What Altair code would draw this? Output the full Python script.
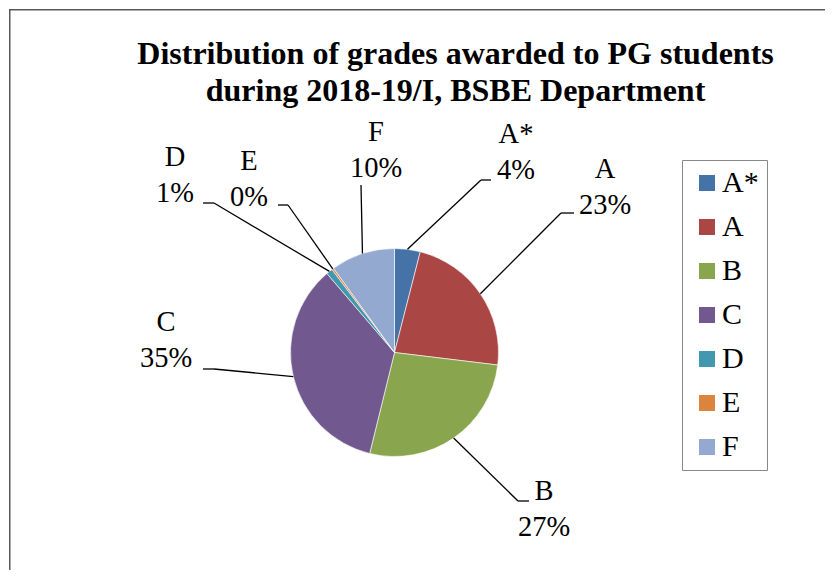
import altair as alt
import pandas as pd

# ---- data ----
grades = ["A*", "A", "B", "C", "D", "E", "F"]
shares = [4, 23, 27, 35, 1, 0.3, 10]
colors = ["#4572A7", "#AA4643", "#89A54E", "#71588F", "#4198AF", "#DB843D", "#93A9CF"]
title_lines = ["Distribution of grades awarded to PG students",
               "during 2018-19/I, BSBE Department"]

# ---- layout (chart pixel space) ----
W, H = 817, 562
CX, CY, R = 385.5, 343.5, 104
FONT = "Liberation Serif"
label_xy = {"A*": (507, 125), "A": (596, 160), "B": (535, 482), "C": (157, 313),
            "D": (166, 148), "E": (240, 152), "F": (367, 123)}
elbow_xy = {"A*": (472, 171), "A": (552, 204), "B": (509, 492), "C": (205, 360),
            "D": (205, 194), "E": (279, 196), "F": (352, 176)}
end_xy = {"A*": (482, 171), "A": (565, 204), "B": (520, 492), "C": (194, 360),
          "D": (194, 194), "E": (269, 196), "F": (352, 176)}

df = pd.DataFrame({
    "grade": grades,
    "share": shares,
    "idx": list(range(len(grades))),
    "lx": [label_xy[g][0] for g in grades],
    "ly": [label_xy[g][1] for g in grades],
    "ex": [elbow_xy[g][0] for g in grades],
    "ey": [elbow_xy[g][1] for g in grades],
    "hx": [end_xy[g][0] for g in grades],
    "hy": [end_xy[g][1] for g in grades],
})

base = alt.Chart(df)

pie = base.mark_arc(outerRadius=R, stroke="white", strokeWidth=0.6).encode(
    theta=alt.Theta("share:Q", stack=True),
    order=alt.Order("idx:Q", sort="ascending"),
    color=alt.Color(
        "grade:N",
        scale=alt.Scale(domain=grades, range=colors),
        legend=alt.Legend(
            title=None, orient="none", legendX=673, legendY=151,
            symbolType="square", symbolSize=256, symbolStrokeWidth=0,
            symbolOpacity=1, symbolOffset=2, labelFont=FONT, labelFontSize=30,
            labelColor="black", labelOffset=0, rowPadding=14,
            padding=8, strokeColor="#888888", fillColor="white",
        ),
    ),
    x=alt.value(CX),
    y=alt.value(CY),
)

derived = (
    base.transform_window(cum="sum(share)", sort=[alt.SortField("idx")], frame=[None, 0])
    .transform_joinaggregate(total="sum(share)")
    .transform_calculate(mid="(datum.cum - datum.share / 2) / datum.total * 2 * PI")
    .transform_calculate(sx=f"{CX} + {R} * sin(datum.mid)")
    .transform_calculate(sy=f"{CY} - {R} * cos(datum.mid)")
    .transform_calculate(lbl="datum.grade + '\\n' + format(datum.share / datum.total, '.0%')")
)

lead1 = derived.mark_rule(color="black", strokeWidth=1.3).encode(
    x=alt.X("sx:Q", scale=None), y=alt.Y("sy:Q", scale=None),
    x2="ex:Q", y2="ey:Q",
)
lead2 = base.mark_rule(color="black", strokeWidth=1.3).encode(
    x=alt.X("ex:Q", scale=None), y=alt.Y("ey:Q", scale=None),
    x2="hx:Q", y2="hy:Q",
)
labels = derived.mark_text(
    font=FONT, fontSize=28.5, lineHeight=36, align="center", baseline="middle",
    lineBreak="\n", color="black",
).encode(
    x=alt.X("lx:Q", scale=None), y=alt.Y("ly:Q", scale=None), text="lbl:N",
)

tdf = pd.DataFrame({"t": ["\n".join(title_lines)]})
title = alt.Chart(tdf).mark_text(
    font=FONT, fontSize=32, fontWeight="bold", lineHeight=37, align="center",
    baseline="alphabetic", lineBreak="\n", color="black",
).encode(x=alt.value(446.5), y=alt.value(55), text="t:N")

fdf = pd.DataFrame({"a": [0]})
frame_top = alt.Chart(fdf).mark_rule(color="#595959", strokeWidth=1.5).encode(
    x=alt.value(0), x2=alt.value(W), y=alt.value(0.75))
frame_left = alt.Chart(fdf).mark_rule(color="#595959", strokeWidth=1.5).encode(
    x=alt.value(0.75), y=alt.value(0), y2=alt.value(H))

chart = alt.layer(frame_top, frame_left, title, pie, lead1, lead2, labels).properties(
    width=W, height=H, padding=0,
    autosize=alt.AutoSizeParams(type="fit", contains="padding"),
).configure_view(stroke=None)

chart.save("out.html", embed_options={"renderer": "svg", "actions": False})
